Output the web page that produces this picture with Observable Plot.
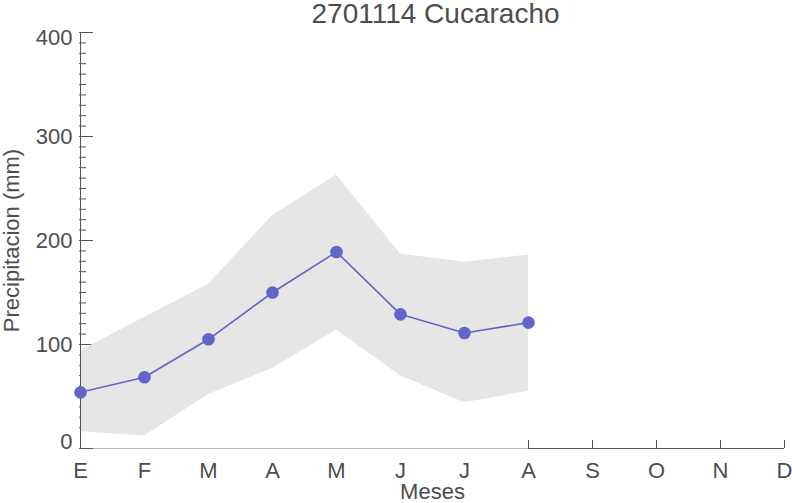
<!DOCTYPE html>
<html><head><meta charset="utf-8">
<script src="https://cdn.jsdelivr.net/npm/d3@7"></script>
<script src="https://cdn.jsdelivr.net/npm/@observablehq/plot@0.6"></script>
<style>html,body{margin:0;padding:0;background:#fff} svg{display:block}</style>
</head><body><div id="chart"></div>
<script>
const chartTitle = "2701114 Cucaracho";
const xLabel = "Meses";
const yLabel = "Precipitacion (mm)";
const months = ["Ene","Feb","Mar","Abr","May","Jun","Jul","Ago","Sep","Oct","Nov","Dic"];
const monthLabels = ["E","F","M","A","M","J","J","A","S","O","N","D"];
const dataMonths = ["Ene","Feb","Mar","Abr","May","Jun","Jul","Ago"];
const meanValues  = [54, 68.5, 105, 150, 189, 129, 111, 121];
const upperValues = [94, 126, 158, 224, 263, 187, 179, 186];
const lowerValues = [16, 12, 52, 77, 114, 70, 44, 55];
const yMajorTicks = [0, 100, 200, 300, 400];
const yMinorTicks = d3.range(20, 400, 10).filter(v => v % 100 !== 0);
const xTickMonths = ["Ago","Sep","Oct","Nov","Dic"];

const series = dataMonths.map((m, i) => ({month: m, mean: meanValues[i], upper: upperValues[i], lower: lowerValues[i]}));

const axisColor = "#555555";
const textColor = "#4d4d4d";
const lineColor = "#6464c8";
const bandColor = "#e6e6e6";

const chart = Plot.plot({
  width: 792, height: 503,
  marginLeft: 79, marginRight: 7, marginTop: 32, marginBottom: 55,
  x: {type: "point", domain: months, padding: 0, axis: null},
  y: {domain: [0, 400], axis: null},
  style: {fontFamily: "'Liberation Sans', Arial, Helvetica, sans-serif", fontSize: "22px", color: textColor, background: "#fff"},
  marks: [
    Plot.tickY(yMinorTicks, {y: d => d, stroke: axisColor, insetRight: 699}),
    Plot.tickY(yMajorTicks, {y: d => d, stroke: axisColor, insetRight: 692}),
    Plot.areaY(series, {x: "month", y1: "lower", y2: "upper", fill: bandColor}),
    Plot.ruleY([0], {x1: () => "Ene", x2: () => "Ago", stroke: "#b8b8b8"}),
    Plot.ruleY([0], {x1: () => "Ago", x2: () => "Dic", stroke: axisColor}),
    Plot.tickY([0], {y: d => d, stroke: axisColor, insetRight: 692}),
    Plot.ruleX(["Ene"], {x: d => d, y1: 0, y2: 400, stroke: axisColor}),
    Plot.tickX(xTickMonths, {x: d => d, stroke: axisColor, insetTop: 408}),
    Plot.line(series, {x: "month", y: "mean", stroke: lineColor, strokeWidth: 1.6}),
    Plot.dot(series, {x: "month", y: "mean", r: 6.3, fill: lineColor, stroke: "none"}),
    Plot.text([100, 200, 300], {y: d => d, text: d => String(d), frameAnchor: "left", textAnchor: "end", dx: -7, fill: textColor}),
    Plot.text([400], {y: d => d, text: d => String(d), frameAnchor: "left", textAnchor: "end", dx: -7, dy: 5, fill: textColor}),
    Plot.text([0], {y: d => d, text: d => String(d), frameAnchor: "left", textAnchor: "end", dx: -7, dy: -7, fill: textColor}),
    Plot.text(months, {x: d => d, text: (d, i) => monthLabels[i], frameAnchor: "bottom", dy: 22, lineAnchor: "middle", fill: textColor}),
    Plot.text([xLabel], {frameAnchor: "bottom", dy: 43, lineAnchor: "middle", fill: textColor}),
    Plot.text([yLabel], {frameAnchor: "left", dx: -68, rotate: -90, textAnchor: "middle", lineAnchor: "middle", fill: textColor}),
    Plot.text([chartTitle], {frameAnchor: "top", dy: -18, dx: 3, lineAnchor: "middle", fill: textColor, fontSize: 28})
  ]
});
document.getElementById("chart").appendChild(chart);
</script>
</body></html>
